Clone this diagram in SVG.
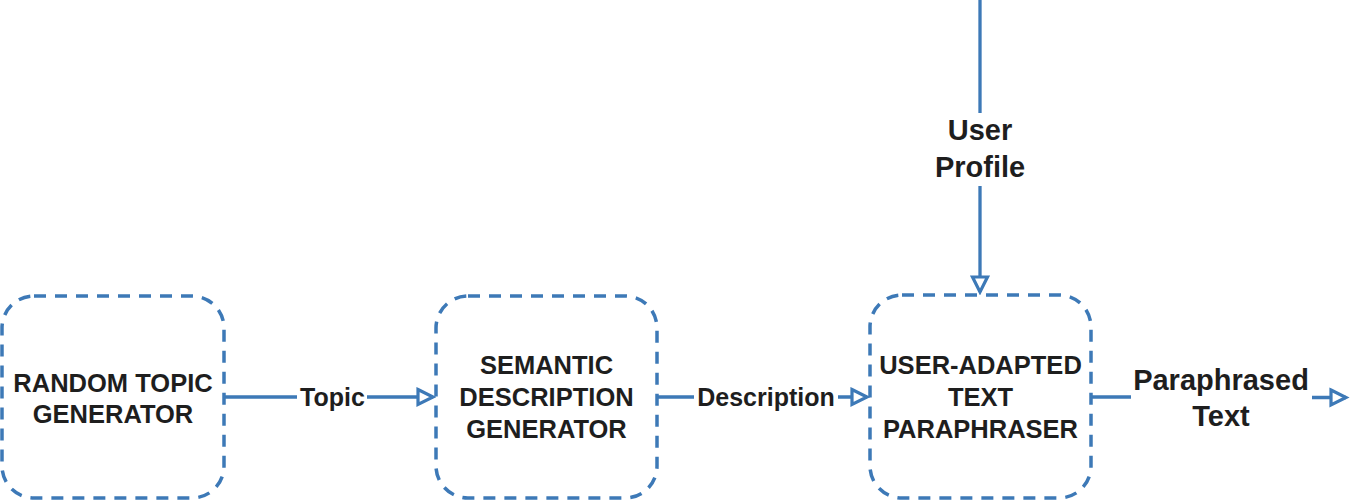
<svg xmlns="http://www.w3.org/2000/svg" width="1350" height="501" viewBox="0 0 1350 501">
<style>
.box{fill:#fff;stroke:#3d79b7;stroke-width:3.5;stroke-dasharray:12 9}
.bt{font-family:"Liberation Sans",Arial,sans-serif;font-weight:bold;font-size:25.5px;fill:#1e1e1e;text-anchor:middle}
.lt{font-family:"Liberation Sans",Arial,sans-serif;font-weight:bold;font-size:25px;fill:#1e1e1e;text-anchor:middle}
.ot{font-family:"Liberation Sans",Arial,sans-serif;font-weight:bold;font-size:29px;fill:#1e1e1e;text-anchor:middle}
.c{fill:none;stroke:#3d79b7;stroke-width:3.3}
</style>
<defs>
<marker id="arr" markerUnits="userSpaceOnUse" markerWidth="26" markerHeight="26" viewBox="-22 -13 26 26" refX="0" refY="0" orient="auto">
<path d="M-15,-7.5 L0,0 L-15,7.5 Z" fill="#fff" stroke="#3d79b7" stroke-width="3.2"/>
</marker>
</defs>
<g id="connectors">
<g id="c-topic">
<path class="c" d="M224,397 H297 M367,397 H433" marker-end="url(#arr)"/>
<text class="lt" x="332.5" y="406">Topic</text>
</g>
<g id="c-description">
<path class="c" d="M658,397 H694 M838,397 H867" marker-end="url(#arr)"/>
<text class="lt" x="766" y="406">Description</text>
</g>
<g id="c-profile">
<path class="c" d="M980,0 V113 M980,186 V292" marker-end="url(#arr)"/>
<text class="ot" x="980" y="140">User</text>
<text class="ot" x="980" y="177">Profile</text>
</g>
<g id="c-paraphrased">
<path class="c" d="M1092,397 H1131 M1312,397.5 H1346" marker-end="url(#arr)"/>
<text class="ot" x="1221" y="390">Paraphrased</text>
<text class="ot" x="1221" y="426">Text</text>
</g>
</g>
<g id="node-random-topic">
<rect class="box" x="2" y="296" width="222" height="202" rx="32"/>
<text class="bt" x="113" y="392">RANDOM TOPIC</text>
<text class="bt" x="113" y="423">GENERATOR</text>
</g>
<g id="node-semantic">
<rect class="box" x="436" y="296" width="221" height="202" rx="32"/>
<text class="bt" x="546.5" y="374">SEMANTIC</text>
<text class="bt" x="546.5" y="406">DESCRIPTION</text>
<text class="bt" x="546.5" y="438">GENERATOR</text>
</g>
<g id="node-paraphraser">
<rect class="box" x="870" y="295" width="221" height="203" rx="32"/>
<text class="bt" x="980.5" y="374">USER-ADAPTED</text>
<text class="bt" x="980.5" y="406">TEXT</text>
<text class="bt" x="980.5" y="438">PARAPHRASER</text>
</g>
</svg>
